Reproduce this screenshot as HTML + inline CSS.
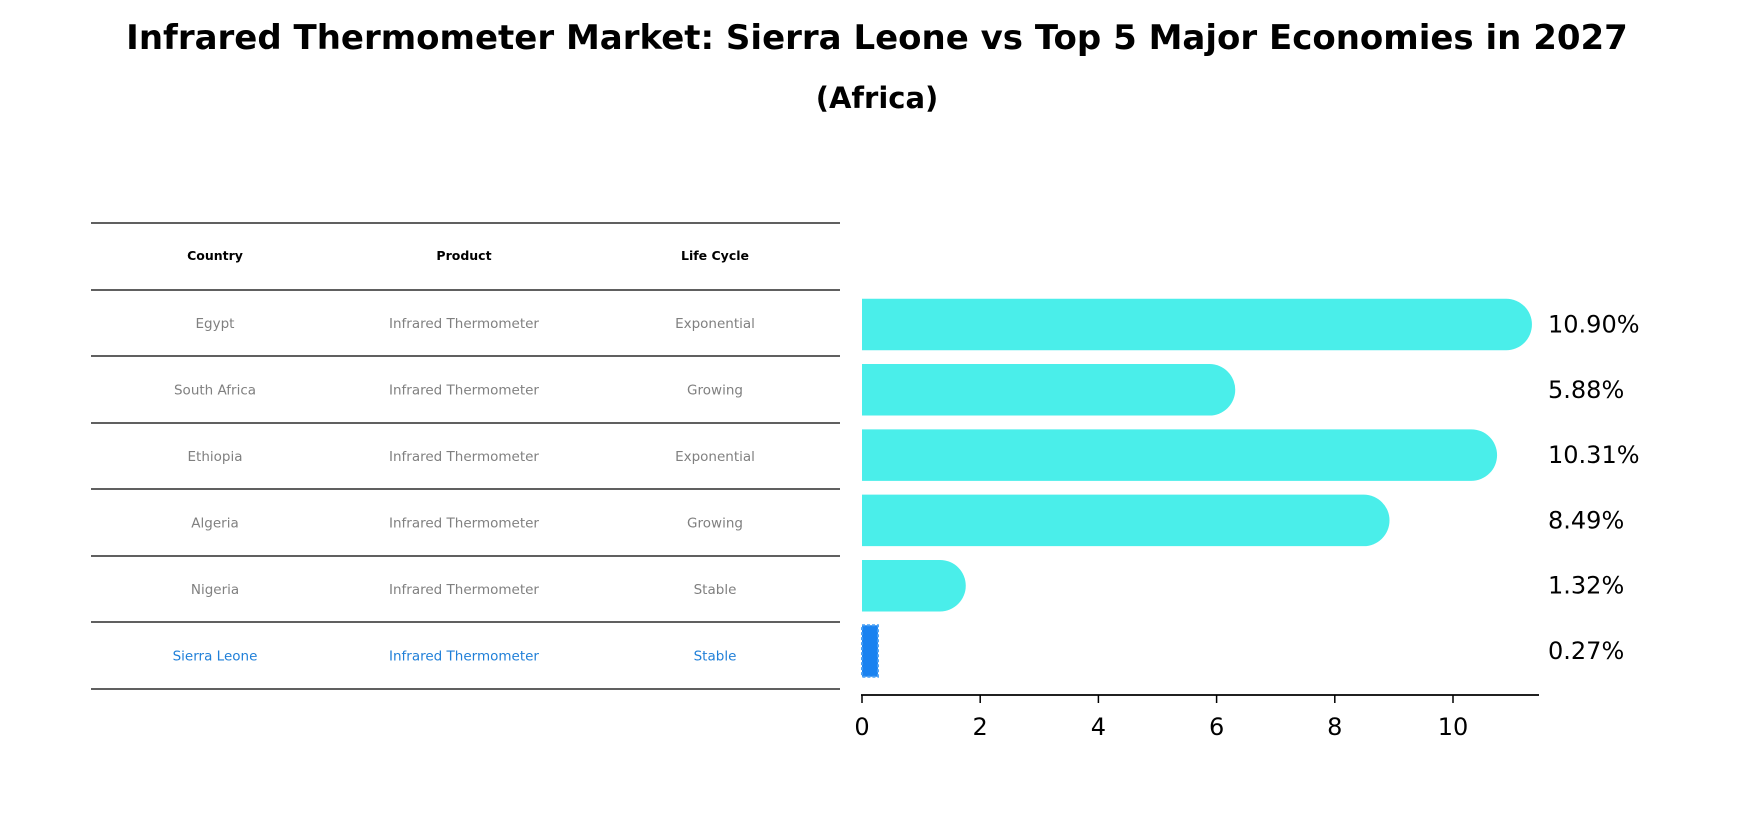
<!DOCTYPE html>
<html><head><meta charset="utf-8"><style>
body{margin:0;background:#fff;width:1755px;height:823px;overflow:hidden;font-family:"Liberation Sans","DejaVu Sans",sans-serif}
</style></head><body>
<svg width="1755" height="823" xmlns="http://www.w3.org/2000/svg" font-family="DejaVu Sans, Liberation Sans, sans-serif">
<text x="877" y="49" text-anchor="middle" font-size="34" font-weight="bold">Infrared Thermometer Market: Sierra Leone vs Top 5 Major Economies in 2027</text>
<text x="877" y="108" text-anchor="middle" font-size="29" font-weight="bold">(Africa)</text>
<g id="table"></g>
<g id="bars"></g>
</svg>
<script>
const countries=["Egypt","South Africa","Ethiopia","Algeria","Nigeria","Sierra Leone"];
const products=["Infrared Thermometer","Infrared Thermometer","Infrared Thermometer","Infrared Thermometer","Infrared Thermometer","Infrared Thermometer"];
const lifeCycles=["Exponential","Growing","Exponential","Growing","Stable","Stable"];
const values=[10.90,5.88,10.31,8.49,1.32,0.27];
const ticks=[0,2,4,6,8,10];
const NS="http://www.w3.org/2000/svg";
function mk(tag,attrs,parent,text){const e=document.createElementNS(NS,tag);for(const k in attrs)e.setAttribute(k,attrs[k]);if(text!==undefined)e.textContent=text;parent.appendChild(e);return e;}
const tbl=document.getElementById('table');
const lineY=[223,290,356,423,489,556,622,689];
const colX=[215,464,715];
for(const y of lineY){const l=mk('line',{x1:91,x2:840,y1:y,y2:y,stroke:'#000','stroke-width':1.2},tbl);

}
const hdr=["Country","Product","Life Cycle"];
hdr.forEach((h,i)=>{const t=mk('text',{x:colX[i],y:260,'text-anchor':'middle','font-size':12.5,'font-weight':'bold'},tbl,h);

});
countries.forEach((c,r)=>{const y=(lineY[r+1]+lineY[r+2])/2+5;const col=c==="Sierra Leone"?'#1f7fd8':'#808080';
[c,products[r],lifeCycles[r]].forEach((v,i)=>{const t=mk('text',{x:colX[i],y:y,'text-anchor':'middle','font-size':13.5,fill:col},tbl,v);

});});
const g=document.getElementById('bars');
const x0=862,unit=59.1;
const xs=v=>x0+v*unit;
const yc=i=>324.5+i*65.3;
const bh=51.5;
values.forEach((v,i)=>{const y=yc(i);
if(countries[i]==="Sierra Leone"){
const r=mk('rect',{x:xs(0),y:y-bh/2,width:xs(v)-xs(0),height:bh,fill:'#1a82f0',stroke:'#4aa0f5','stroke-width':2,'stroke-dasharray':'3,2'},g);


}else{
const p=mk('path',{d:`M${xs(0)},${y-bh/2} H${xs(v)} A${bh/2},${bh/2} 0 0 1 ${xs(v)},${y+bh/2} H${xs(0)} Z`,fill:'#4aeeea'},g);

}
const t=mk('text',{x:1548,y:y+8,'font-size':24},g,v.toFixed(2)+'%');

});
const ax=mk('line',{x1:861,x2:1539,y1:695,y2:695,stroke:'#000','stroke-width':1.8},g);


ticks.forEach(t=>{const l=mk('line',{x1:xs(t),x2:xs(t),y1:695,y2:703,stroke:'#000','stroke-width':1.5},g);


const tx=mk('text',{x:xs(t),y:735,'text-anchor':'middle','font-size':24},g,String(t));

});
</script>
</body></html>
